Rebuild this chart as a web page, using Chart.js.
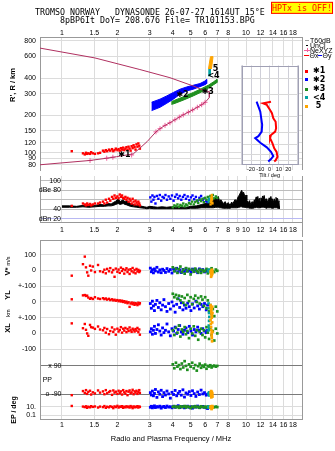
<!DOCTYPE html>
<html>
<head>
<meta charset="utf-8">
<title>Dynasonde ionogram</title>
<script src="https://cdn.jsdelivr.net/npm/chart.js@4.4.1/dist/chart.umd.min.js"></script>
<style>
  html, body { margin:0; padding:0; background:#fff; }
  body { width:335px; height:451px; position:relative; overflow:hidden; }
  canvas { position:absolute; }
  .tx { position:absolute; white-space:pre; color:#000; z-index:10; }
  .bx { position:absolute; z-index:10; }
</style>
</head>
<body>
<script>
// ---------------- DATA ----------------
const freqTicksTop = [1, 1.5, 2, 3, 4, 5, 6, 7, 8, 10, 12, 14, 16, 18];
const freqTicksMid = [1, 1.5, 2, 3, 4, 5, 6, 7, 8, 9, 10, 12, 14, 16, 18];
const heightTicks = [80, 90, 100, 120, 150, 200, 300, 400, 600, 800];
const dbTicks = [20, 40, 60, 80, 100];
const dbLabels = ['dBn 20', '40', '', 'dBe 80', '100'];
const tiltTicks = [-30, -20, -10, 0, 10, 20, 30];

// electron density profile (maroon) and NeXYZ crosses
const profF = [0.76,1.51,2.65,3.86,5.17,5.99,6.32,6.32,6.11,5.99,5.74,5.44,5.13,4.86,4.56,4.34,4.11,3.86,3.63,3.41,3.24,2.90,2.65,2.44,1.98,1.75,1.42,0.76];
const profH = [700,583,470,404,346,316,311,280,263,255.5,244.4,233.1,221.8,212.7,202.5,194,184.7,174.8,166.4,156.6,147.5,123,109,98,93,90.4,86.7,80];
const nexF = [1.42,1.75,1.89,2.39,3.24,3.41,3.63,3.86,4.11,4.34,4.56,4.86,5.13,5.44,5.74,5.99];
const nexH = [86.7,90.4,92.1,96,147.5,156.6,166.4,174.8,184.7,194,202.5,212.7,221.8,233.1,244.4,255.5];

// echo traces (bands) in top panel
const blueBandF   = [3.07,3.41,3.71,4.03,4.38,4.76,5.17,5.62,5.99,6.11];
const blueBandTop = [256,271,288,307,326,340,351,362,380,391];
const blueBandBot = [219,233,251,271,297,316,326,342,355,362];
const greenBandF   = [3.93,4.03,4.56,5.17,5.74,6.24,6.64,6.95];
const greenBandTop = [258,263,283,307,330,351,373,391];
const greenBandBot = [246,248,266,288,310,332,353,369];
const tealOutF = [6.24,6.28,6.42,6.38];
const tealOutH = [416,478,478,416];
const orangeOutF = [6.25,6.41,6.62,6.49];
const orangeOutH = [475,597,597,475];

// echo 1 (red, E region)
const redF  = [1.13,1.30,1.33,1.35,1.37,1.39,1.42,1.44,1.47,1.51,1.57,1.61,1.67,1.70,1.73,1.76,1.80,1.83,1.87,1.90,1.93,1.96,2.00,2.03,2.06,2.09,2.12,2.15,2.18,2.21,2.24,2.27,2.30,2.33,2.36,2.39,2.42,2.45,2.48,2.51,2.54,2.57,2.60,2.63,2.65];
const redH  = [103,99,97,100,98,99,98,101,99,98,99,100,104,102,105,103,106,104,107,103,105,108,105,107,104,109,106,110,105,108,111,106,112,108,104,113,109,115,111,106,117,112,119,114,108];
const redA  = [47,52,50,48,52,49,51,48,50,52,52,54,56,52,60,54,62,58,66,62,69,64,67,63,71,66,69,64,62,66,60,64,56,62,58,52,62,56,50,58,54,50,56,52,48];
const redV  = [-33,40,88,20,-12,-33,30,0,25,-10,35,-5,-10,5,-18,10,-5,15,-12,3,-40,12,-8,6,-15,18,-3,9,-20,2,14,-10,5,-22,8,-5,16,-12,3,-18,10,-6,4,-10,-2];
const redYL = [17,42,44,38,40,28,20,25,19,30,22,19,24,18,22,15,20,12,17,10,14,8,12,5,10,3,8,0,5,-4,2,-8,-2,-31,-10,-4,-14,-6,-18,-8,-12,-20,-5,-14,-8];
const redXL = [64,33,60,23,0,-15,54,40,37,29,44,25,20,35,5,28,-5,15,38,10,25,-8,30,12,22,40,5,30,18,35,8,28,15,38,20,10,30,22,12,28,18,35,8,25,-8];
const redPP = [-96,-70,-82,-64,-88,-75,-68,-92,-78,-85,-66,-80,-72,-90,-64,-84,-76,-70,-94,-66,-80,-74,-88,-68,-82,-72,-92,-64,-78,-86,-70,-96,-74,-66,-84,-78,-62,-90,-72,-80,-68,-88,-76,-64,-82];
const redEP = [17,12,9,14,6,11,8,15,10,13,7,12,9,16,6,11,8,14,10,5,13,9,18,7,12,10,15,6,11,8,14,9,12,7,16,10,5,13,8,11,9,15,7,12,10];

// echo 2 (blue, F o-mode)
const blueF  = [3.02,3.06,3.10,3.14,3.18,3.22,3.28,3.34,3.40,3.46,3.52,3.58,3.65,3.72,3.80,3.88,3.96,4.04,4.12,4.20,4.28,4.36,4.45,4.54,4.63,4.72,4.82,4.92,5.02,5.12,5.23,5.34,5.46,5.58,5.70,5.82,5.95,6.08,6.18];
const blueA  = [65,56,69,60,66,52,68,62,70,58,66,64,70,60,67,62,69,58,66,71,63,68,60,66,70,62,67,59,65,69,61,66,58,64,68,60,63,57,55];
const blueV  = [15,-8,5,-15,10,-3,20,-10,4,-14,8,0,-12,12,-5,6,-16,9,-2,14,-9,3,-13,7,-6,11,-4,2,-11,9,-7,5,-14,10,-3,6,-9,2,-5];
const blueYL = [-10,-40,5,-25,-55,-15,10,-35,-5,-50,-20,15,-30,-60,-10,-45,0,-25,-65,-15,20,-35,-5,-50,-20,-40,-8,-30,-55,-12,-38,5,-25,-45,-15,-30,-10,-50,-20];
const blueXL = [10,30,-5,20,45,0,25,55,15,-10,35,5,20,60,10,-15,30,15,40,0,25,50,10,-5,20,35,5,45,15,-10,25,10,40,20,0,30,15,5,20];
const bluePP = [-80,-95,-70,-100,-85,-60,-110,-75,-90,-65,-105,-80,-95,-70,-88,-115,-78,-92,-66,-100,-84,-72,-96,-62,-108,-82,-90,-74,-98,-68,-86,-104,-76,-92,-64,-88,-80,-96,-90];
const blueEP = [8,14,6,11,18,7,12,9,15,5,10,13,7,16,9,11,6,14,8,12,20,7,10,13,6,9,15,8,11,5,12,9,16,7,10,13,8,6,4];

// echo 3 (green, F x-mode)
const greenF  = [4.00,4.08,4.16,4.24,4.32,4.40,4.48,4.56,4.64,4.72,4.80,4.90,5.00,5.10,5.20,5.30,5.40,5.50,5.60,5.70,5.80,5.90,6.00,6.10,6.20,6.30,6.40,6.50,6.60,6.72,6.85,6.98];
const greenA  = [44,48,46,50,45,49,47,52,46,50,48,53,51,56,50,55,58,53,60,57,62,55,64,60,66,62,68,65,70,63,67,64];
const greenV  = [20,-5,12,-15,8,25,-10,5,-20,15,-5,10,-25,5,-8,12,-3,-12,6,-15,3,-6,-2,10,-18,4,-8,14,-4,-10,6,-2];
const greenYL = [52,30,45,20,40,10,35,-5,25,-20,45,5,30,-15,20,40,0,25,-10,35,15,-25,30,-40,10,-60,-20,-75,-45,-90,-30,-60];
const greenXL = [20,-10,35,5,50,-20,25,10,40,-5,15,-30,30,0,45,-15,20,-40,10,30,-10,20,-25,40,5,-35,25,-10,15,-45,30,0];
const greenPP = [100,75,110,85,95,70,105,80,120,90,65,100,85,110,75,95,60,88,104,78,92,84,98,72,90,86,94,80,88,92,85,90];
const greenEP = [10,15,8,12,6,14,9,11,16,7,13,10,5,12,8,15,9,11,6,14,10,8,12,7,13,9,11,6,10,8,12,9];

// echo 4 (teal) and echo 5 (orange)
const tealF  = [6.26,6.28,6.30,6.32];
const tealA  = [55,60,58,62];
const tealV  = [-5,5,0,-8];
const tealYL = [-10,-40,-70,-95];
const tealXL = [20,50,80,35];
const tealPP = [-85,-92,-78,-98];
const tealEP = [9,12,7,11];
const orangeF  = [6.42,6.44,6.46,6.48,6.50,6.51,6.52,6.54,6.55,6.57];
const orangeA  = [50,55,58,62,66,70,64,60,54,52];
const orangeV  = [-5,-15,-40,-25,0,-10,-30,5,-20,-8];
const orangeYL = [-20,-35,-50,-65,-80,-100,-45,-90,-30,-70];
const orangeXL = [85,60,40,20,0,-15,-30,-50,70,10];
const orangePP = [-80,-95,-70,-110,-88,-100,-75,-92,-84,-105];
const orangeEP = [10,6,14,8,3,12,5,9,16,7];

// noise / T60dB amplitude band (dBe)
const noiseF  = [1.00,1.10,1.20,1.30,1.40,1.51,1.61,1.70,1.78,1.85,1.90,1.96,2.02,2.07,2.15,2.20,2.25,2.35,2.44,2.55,2.65,2.80,2.89,3.00,3.15,3.30,3.50,3.71,3.90,4.03,4.30,4.50,4.76,5.00,5.40,5.75,6.11,6.40,6.64,6.85,
  7.0,7.07,7.2,7.3,7.53,7.7,7.85,8.0,8.19,8.35,8.5,8.7,8.9,9.05,9.2,9.35,9.48,9.6,9.7,9.88,10.0,10.1,10.29,10.45,10.6,10.8,10.96,11.1,11.2,11.35,11.44,11.6,11.7,11.85,11.92,12.05,12.2,12.3,12.42,12.55,12.7,12.85,12.96,13.1,13.2,13.35,13.5,13.65,13.8,13.95,14.07,14.25,14.4,14.55,14.69,14.85,14.95,15.1,15.17];
const noiseHi = [47,47,46,48,47,48,50,49,52,51,54,57,62,56,60,55,58,52,50,48,47,45,44,46,45,44,45,44,45,44,45,44,44,46,47,50,53,56,60,64,
  58,67,55,60,52,56,50,54,48,55,52,60,58,66,70,76,80,72,76,66,70,58,54,58,50,56,52,60,56,66,62,67,58,63,56,64,60,68,64,69,58,62,52,58,55,64,60,67,58,62,54,62,58,65,60,63,55,58,46];
const noiseLo = [44,44,44,45,44,45,46,46,47,47,48,50,52,50,52,50,49,46,45,44,43,42,41,42,41,41,41,41,41,41,41,41,41,42,42,43,43,43,43,44,
  44,44,43,43,42,42,42,42,42,43,43,43,43,44,44,45,45,44,44,44,43,43,43,42,42,42,42,43,43,44,44,43,43,43,43,44,44,44,44,44,43,43,42,43,43,43,43,43,42,42,42,43,43,43,43,42,42,42,41];

// tilt profiles (inset)
const tiltXH = [263,255,248,226,213,194,182,162,152,143,135,123,112,105,96,90,88];
const tiltX  = [1.5,-7,-3,0.5,2.5,4,6.5,7,6,1.5,0.5,3,5,7.5,8.5,6.5,5];
const tiltYH = [263,240,219,194,172,152,140,135,124,114,105,97,92,88];
const tiltY  = [-14,-12,-10,-9,-8,-8.5,-12,-15.5,-10,-3,1.5,4,1.5,-1.5];

// echo labels in the top panel
const echoLabelText = ['\u27311', '\u27312', '\u27313', '<4', '5'];
const echoLabelF = [2.185, 4.52, 6.2, 6.66, 6.83];
const echoLabelH = [95.5, 295, 311, 421, 479];

// ---------------- STYLE / HELPERS ----------------
const FONT = '"Liberation Sans", Arial, Helvetica, sans-serif';
const MONO = '"DejaVu Sans Mono", "Liberation Mono", monospace';
Chart.defaults.font.family = FONT;
Chart.defaults.color = '#000';
const RED='#ff0000', BLUE='#0000ff', GREEN='#1f8f1f', TEAL='#00a3a3', ORANGE='#ffa500', MAROON='#b03060', PINK='#f2609e';
const GRID='#dcdcdc', FRAME='#999999';
const F_MIN = 0.7594, F_MAX = 20.15;

const P = (xs, ys, fn) => xs.map((x, i) => ({x: x, y: fn ? fn(ys[i]) : ys[i]}));
const band = (xs, top, bot) => P(xs, top).concat(P(xs, bot).reverse());
const noPad = s => { s.paddingTop = 0; s.paddingBottom = 0; s.paddingLeft = 0; s.paddingRight = 0; };

function mkCanvas(left, top, w, h) {
  const c = document.createElement('canvas');
  c.width = w; c.height = h;
  c.style.left = left + 'px'; c.style.top = top + 'px';
  c.style.width = w + 'px'; c.style.height = h + 'px';
  document.body.appendChild(c);
  return c.getContext('2d');
}
function addText(str, x, y, o) {
  o = o || {};
  const d = document.createElement('div');
  d.className = 'tx';
  if (o.html) d.innerHTML = str; else d.textContent = str;
  const size = o.size || 7.5;
  d.style.fontFamily = o.family || FONT;
  d.style.fontSize = size + 'px';
  d.style.lineHeight = size + 'px';
  if (o.weight) d.style.fontWeight = o.weight;
  if (o.color) d.style.color = o.color;
  d.style.left = x + 'px';
  d.style.top = y + 'px';
  let tf = 'translateY(-50%)';
  if (o.align === 'center') tf = 'translate(-50%,-50%)';
  if (o.align === 'right') tf = 'translate(-100%,-50%)';
  if (o.rot) tf = 'translate(-50%,-50%) rotate(-90deg)';
  d.style.transform = tf;
  document.body.appendChild(d);
  return d;
}
function addBox(x, y, w, h, bg) {
  const d = document.createElement('div');
  d.className = 'bx';
  d.style.left = x + 'px'; d.style.top = y + 'px';
  d.style.width = w + 'px'; d.style.height = h + 'px';
  d.style.background = bg;
  document.body.appendChild(d);
  return d;
}
function framePlugin(sides, color) {
  return { id: 'frame', afterDraw(chart) {
    const ctx = chart.ctx, a = chart.chartArea;
    ctx.save(); ctx.strokeStyle = color || FRAME; ctx.lineWidth = 1; ctx.beginPath();
    const L = Math.round(a.left) + 0.5, R = Math.round(a.right) + 0.5;
    const T = Math.round(a.top) + 0.5, B = Math.round(a.bottom) - 0.5;
    if (sides.includes('left'))   { ctx.moveTo(L, a.top); ctx.lineTo(L, a.bottom); }
    if (sides.includes('right'))  { ctx.moveTo(R, a.top); ctx.lineTo(R, a.bottom); }
    if (sides.includes('top'))    { ctx.moveTo(a.left, T); ctx.lineTo(a.right + 1, T); }
    if (sides.includes('bottom')) { ctx.moveTo(a.left, B); ctx.lineTo(a.right + 1, B); }
    ctx.stroke(); ctx.restore();
  }};
}
function bgPlugin(color) {
  return { id: 'bg', beforeDraw(chart) {
    const ctx = chart.ctx, a = chart.chartArea;
    ctx.save(); ctx.fillStyle = color; ctx.fillRect(a.left, a.top, a.right - a.left, a.bottom - a.top); ctx.restore();
  }};
}
function labelPlugin(items) {
  return { id: 'labels', afterDatasetsDraw(chart) {
    const ctx = chart.ctx, xs = chart.scales.x, ys = chart.scales.y;
    ctx.save(); ctx.textBaseline = 'middle';
    items.forEach(it => {
      ctx.font = it.font; ctx.fillStyle = it.color || '#000'; ctx.textAlign = it.align || 'center';
      ctx.fillText(it.text, xs.getPixelForValue(it.x) + (it.dx || 0), ys.getPixelForValue(it.y));
    });
    ctx.restore();
  }};
}
function freqAxis(position, tickVals, h, pad, showLabels) {
  return {
    type: 'logarithmic', position: position, min: F_MIN, max: F_MAX, bounds: 'data',
    afterBuildTicks: s => { s.ticks = tickVals.map(v => ({value: v})); },
    afterFit: s => { s.height = h; noPad(s); },
    ticks: { display: showLabels, autoSkip: false, maxRotation: 0, minRotation: 0, padding: pad,
             font: {size: 7}, color: '#000', callback: v => String(v) },
    grid: { color: GRID, drawTicks: false },
    border: { display: true, color: FRAME }
  };
}
const dots = (data, color, r) => ({ data: data, showLine: false, pointStyle: 'rect', pointRadius: r,
  pointBackgroundColor: color, pointBorderWidth: 0, borderColor: color, backgroundColor: color });
const shapeDs = (data, color) => ({ data: data, fill: 'shape', backgroundColor: color, borderColor: color,
  borderWidth: 1, pointRadius: 0 });
const baseOpts = (padding) => ({
  responsive: false, animation: false, devicePixelRatio: 1, events: [],
  layout: { padding: padding },
  plugins: { legend: { display: false }, tooltip: { enabled: false } }
});

// ---------------- TOP PANEL: virtual height vs frequency ----------------
const echoItems = echoLabelText.map((t, i) => ({ text: t, x: echoLabelF[i], y: echoLabelH[i], font: 'bold 8px "DejaVu Sans"' }));
new Chart(mkCanvas(0, 0, 335, 175), {
  type: 'line',
  data: { datasets: [
    { data: P(profF, profH), borderColor: MAROON, borderWidth: 1, pointRadius: 0 },
    { data: P(nexF, nexH), showLine: false, pointStyle: 'cross', pointRadius: 2.5, pointBorderColor: PINK, pointBorderWidth: 1, borderColor: PINK },
    shapeDs(P(orangeOutF, orangeOutH), ORANGE),
    shapeDs(P(tealOutF, tealOutH), TEAL),
    shapeDs(band(greenBandF, greenBandTop, greenBandBot), GREEN),
    shapeDs(band(blueBandF, blueBandTop, blueBandBot), BLUE),
    dots(P(redF, redH), RED, 1.7)
  ]},
  options: Object.assign(baseOpts({left: 0, right: 33, top: 0, bottom: 3}), {
    scales: {
      x: freqAxis('top', freqTicksTop, 37, 0, true),
      y: { type: 'logarithmic', min: 72.6, max: 860.6, bounds: 'data',
           afterBuildTicks: s => { s.ticks = heightTicks.map(v => ({value: v})); },
           afterFit: s => { s.width = 40; noPad(s); },
           ticks: { autoSkip: false, padding: 4, font: {size: 7}, color: '#000', callback: v => String(v) },
           grid: { color: GRID, drawTicks: false },
           border: { display: true, color: FRAME } }
    }
  }),
  plugins: [framePlugin(['right']), labelPlugin(echoItems)]
});

// ---------------- dBe PANEL ----------------
const dbItems = dbTicks.map((v, i) => ({ text: dbLabels[i], x: 1, dx: -1, y: v, align: 'right', font: '7px ' + FONT }));
new Chart(mkCanvas(0, 172, 335, 64), {
  type: 'line',
  data: { datasets: [
    dots(P(orangeF, orangeA), ORANGE, 1.6),
    dots(P(tealF, tealA), TEAL, 1.6),
    dots(P(greenF, greenA), GREEN, 1.7),
    dots(P(blueF, blueA), BLUE, 1.7),
    dots(P(redF, redA), RED, 1.7),
    shapeDs(band(noiseF, noiseHi, noiseLo), '#000000')
  ]},
  options: Object.assign(baseOpts({left: 0, right: 33, top: 0, bottom: 0}), {
    scales: {
      x: freqAxis('bottom', freqTicksMid, 14, 4, true),
      y: { type: 'linear', min: 12.8, max: 110.3, bounds: 'data',
           afterBuildTicks: s => { s.ticks = dbTicks.map(v => ({value: v})); },
           afterFit: s => { s.width = 40; noPad(s); },
           ticks: { display: false },
           grid: { color: c => (c.tick && c.tick.value === 20) ? '#b8b8f2' : '#bdbdbd', drawTicks: false },
           border: { display: true, color: FRAME } }
    }
  }),
  plugins: [framePlugin(['right']), labelPlugin(dbItems)]
});

// ---------------- BOTTOM PANEL: V*, YL, XL, PP, EP ----------------
const uV = v => v + 400, uYL = v => v + 200, uXL = v => v, uPP = v => v - 296.25;
const uEP = v => -466.9 + 25.94 * (Math.log10(v) - 1);
const rows = (F, V, YL, XL, PP, EP) => [].concat(P(F, V, uV), P(F, YL, uYL), P(F, XL, uXL), P(F, PP, uPP), P(F, EP, uEP));
const uTicks  = [uV(100), uV(0), uV(-100), uYL(0), uYL(-100), uXL(0), uXL(-100), uPP(90), uPP(-90), uEP(10), uEP(0.1)];
const uLabels = ['100', '0', '+-100', '0', '+-100', '0', '-100', '', '', '10.', '0.1'];
const darkTicks = [uPP(90), uPP(-90)];
const botItems = [
  { text: 'x 90', x: 1, dx: -0.5, y: uPP(90), align: 'right', font: '7px ' + FONT },
  { text: 'o -90', x: 1, dx: -0.5, y: uPP(-90), align: 'right', font: '7px ' + FONT },
  { text: 'PP', x: 0.785, y: uPP(2), align: 'left', font: '7px ' + FONT }
];
new Chart(mkCanvas(0, 236, 335, 215), {
  type: 'line',
  data: { datasets: [
    dots(rows(orangeF, orangeV, orangeYL, orangeXL, orangePP, orangeEP), ORANGE, 1.9),
    dots(rows(tealF, tealV, tealYL, tealXL, tealPP, tealEP), TEAL, 1.9),
    dots(rows(greenF, greenV, greenYL, greenXL, greenPP, greenEP), GREEN, 1.9),
    dots(rows(blueF, blueV, blueYL, blueXL, bluePP, blueEP), BLUE, 2.0),
    dots(rows(redF, redV, redYL, redXL, redPP, redEP), RED, 1.7)
  ]},
  options: Object.assign(baseOpts({left: 0, right: 33, top: 1, bottom: 0}), {
    scales: {
      x: freqAxis('bottom', freqTicksTop, 32, 1.5, true),
      y: { type: 'linear', min: -543.75, max: 593.75, bounds: 'data',
           afterBuildTicks: s => { s.ticks = uTicks.map(v => ({value: v})); },
           afterFit: s => { s.width = 40; noPad(s); },
           ticks: { autoSkip: false, padding: 4, font: {size: 7}, color: '#000', callback: (v, i) => uLabels[i] },
           grid: { color: c => (c.tick && darkTicks.includes(c.tick.value)) ? '#7a7a7a' : GRID, drawTicks: false },
           border: { display: true, color: FRAME } }
    }
  }),
  plugins: [framePlugin(['top', 'right']), labelPlugin(botItems)]
});

// ---------------- TILT INSET ----------------
new Chart(mkCanvas(230, 60, 75, 122), {
  type: 'line',
  data: { datasets: [
    { data: P(tiltX, tiltXH), borderColor: RED, borderWidth: 2, pointRadius: 0 },
    { data: P(tiltY, tiltYH), borderColor: BLUE, borderWidth: 2, pointRadius: 0 }
  ]},
  options: Object.assign(baseOpts({left: 0, right: 7.5, top: 5.5, bottom: 0}), {
    scales: {
      x: { type: 'linear', min: -30, max: 30, position: 'bottom', bounds: 'data',
           afterBuildTicks: s => { s.ticks = tiltTicks.map(v => ({value: v})); },
           afterFit: s => { s.height = 17; noPad(s); },
           ticks: { autoSkip: false, maxRotation: 0, padding: 1, font: {size: 5.5}, color: '#000',
                    callback: v => (Math.abs(v) === 30 ? '' : String(v)) },
           grid: { color: '#cfcfd8', drawTicks: false },
           border: { display: false },
           title: { display: true, text: 'Tilt / deg', font: {size: 5.5}, color: '#000', padding: {top: 0, bottom: 3.7} } },
      y: { type: 'logarithmic', min: 82.5, max: 510.5, bounds: 'data',
           afterBuildTicks: s => { s.ticks = heightTicks.filter(v => v > 82.5 && v < 510.5).map(v => ({value: v})); },
           afterFit: s => { s.width = 11.7; noPad(s); },
           ticks: { display: false },
           grid: { color: '#d8d8d8', drawTicks: false },
           border: { display: false } }
    }
  }),
  plugins: [bgPlugin('#ffffff'), framePlugin(['top', 'bottom', 'left', 'right'], '#a0a0b4')]
});

// ---------------- TEXT: titles, axis titles, legend ----------------
addText('TROMSO NORWAY   DYNASONDE 26-07-27 1614UT 15\u00B0E', 35, 12.3, {family: MONO, size: 8.3});
addText('8pBP6It DoY= 208.676 File= TR101153.BPG', 60, 20.3, {family: MONO, size: 8.3});
const hp = addText('HPTx is OFF!', 302, 7.5, {family: MONO, size: 8.3, color: '#ff0000', align: 'center'});
hp.style.background = '#ffff00'; hp.style.border = '1px solid #ff0000'; hp.style.padding = '1px 0px';

addText("R', R / km", 13, 85, {rot: true, weight: 'bold', size: 7.5});
addText('V* <span style="font-size:5.5px;font-weight:normal">m/s</span>', 8, 265.5, {rot: true, weight: 'bold', size: 7.5, html: true});
addText('YL', 8, 295, {rot: true, weight: 'bold', size: 7.5});
addText('km', 9, 313, {rot: true, size: 5.5});
addText('XL', 8, 328, {rot: true, weight: 'bold', size: 7.5});
addText('EP / deg', 13, 410, {rot: true, weight: 'bold', size: 7});
addText('Radio and Plasma Frequency / MHz', 171, 439, {align: 'center', size: 7.5});
addBox(302, 222, 1, 15, FRAME);

// legend
addBox(305, 39.5, 4, 1, '#a0a0a0');   addText('T60dB', 310, 40, {size: 7});
addBox(306, 44.5, 1.5, 1.5, '#000');  addText('UnCl', 310, 45, {size: 7});
addBox(304, 49.5, 6, 1, PINK); addBox(306.5, 48, 1, 4, PINK); addText('NeXYZ', 310, 50, {size: 7});
addBox(304, 54.5, 5, 1, RED); addText('\u0398x', 309.5, 55, {size: 7});
addBox(318, 54.5, 4, 1, BLUE); addText('\u0398y', 322.5, 55, {size: 7});
const legItems = [['\u27311', RED, 71], ['\u27312', BLUE, 79.5], ['\u27313', GREEN, 89], ['<4', TEAL, 97.5], [' 5', ORANGE, 106]];
legItems.forEach(it => {
  addBox(305, it[2] - 1.5, 3, 3, it[1]);
  addText(it[0], 313, it[2], {size: 8, family: '"DejaVu Sans", ' + FONT, weight: 'bold'});
});
</script>
</body>
</html>
